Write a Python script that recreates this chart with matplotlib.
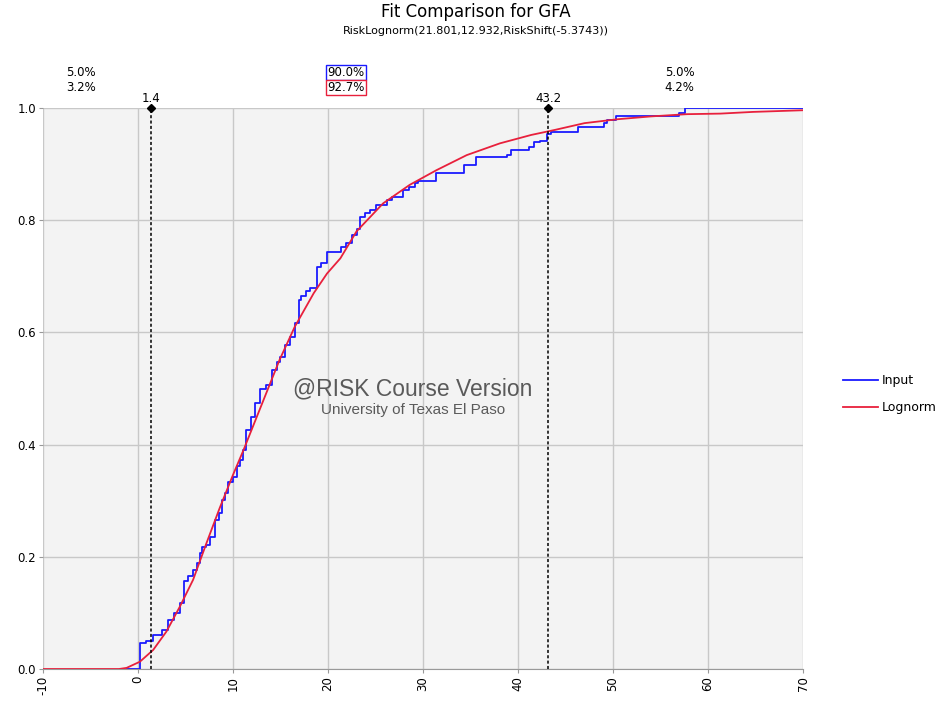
import numpy as np
import matplotlib
matplotlib.use("Agg")
import matplotlib.pyplot as plt

# empirisk fordeling (trappekurve)
input_x = [-1.2, 0.2, 0.8, 1.6, 2.5, 3.2, 3.8, 4.4, 4.8, 5.3, 5.8, 6.2, 6.5, 6.7, 7.2,
           7.6, 8.1, 8.5, 8.8, 9.2, 9.5, 10.0, 10.4, 10.7, 11.1, 11.4, 11.9, 12.3, 12.8,
           13.5, 14.1, 14.6, 14.9, 15.5, 16.0, 16.5, 16.9, 17.2, 17.7, 18.1, 18.8, 19.3,
           19.9, 21.4, 21.9, 22.5, 23.0, 23.4, 23.9, 24.4, 25.1, 26.2, 26.7, 27.9, 28.5,
           29.2, 29.5, 31.4, 34.3, 35.6, 38.8, 39.3, 41.2, 41.7, 42.3, 43.0, 43.5, 46.3,
           49.0, 49.4, 50.3, 56.9, 57.6, 70.0]
input_y = [0.0, 0.046, 0.05, 0.06, 0.07, 0.087, 0.10, 0.117, 0.156, 0.165, 0.176, 0.189,
           0.207, 0.218, 0.221, 0.236, 0.266, 0.278, 0.301, 0.313, 0.334, 0.343, 0.361,
           0.373, 0.39, 0.426, 0.45, 0.474, 0.50, 0.506, 0.533, 0.548, 0.557, 0.578,
           0.592, 0.617, 0.658, 0.664, 0.673, 0.679, 0.717, 0.724, 0.744, 0.753, 0.759,
           0.774, 0.785, 0.806, 0.812, 0.818, 0.827, 0.836, 0.841, 0.854, 0.86, 0.866,
           0.869, 0.885, 0.898, 0.912, 0.916, 0.925, 0.931, 0.94, 0.942, 0.953, 0.958,
           0.967, 0.973, 0.979, 0.985, 0.991, 1.0, 1.0]

# tilpasset lognormal-kurve
logn_x = [-10, -2, -1.2, 0.2, 1.6, 3.0, 4.4, 5.8, 7.2, 8.6, 10, 11.1, 12.8, 14.9, 16.5,
          18.5, 19.9, 21.3, 23.0, 25.8, 28.6, 31.4, 34.6, 38.1, 41.4, 43.9, 47.0, 50.5,
          54.0, 57.8, 61.3, 64.7, 70]
logn_y = [0, 0, 0.002, 0.013, 0.034, 0.067, 0.111, 0.159, 0.224, 0.287, 0.346, 0.39,
          0.462, 0.551, 0.61, 0.67, 0.705, 0.732, 0.780, 0.830, 0.863, 0.889, 0.916,
          0.937, 0.952, 0.961, 0.973, 0.980, 0.985, 0.989, 0.99, 0.993, 0.996]

markers_x = [1.4, 43.2]
xticks = [-10, 0, 10, 20, 30, 40, 50, 60, 70]
yticks = [0.0, 0.2, 0.4, 0.6, 0.8, 1.0]

blue = "#1a1aff"
red = "#e8203c"

fig = plt.figure(figsize=(9.51, 7.04), dpi=100)
ax = fig.add_axes([0.0452, 0.0497, 0.7992, 0.7969])
ax.set_facecolor("#f3f3f3")

ax.plot(input_x, input_y, drawstyle="steps-post", color=blue, lw=1.3, label="Input", zorder=3)
ax.plot(logn_x, logn_y, color=red, lw=1.3, label="Lognorm", zorder=4)

for mx in markers_x:
    ax.plot([mx, mx], [0, 1], color="black", ls=(0, (2, 1.5)), lw=1.1, zorder=5)
    ax.plot(mx, 1.0, marker="D", color="black", ms=4, clip_on=False, zorder=6)
    ax.text(mx, 1.005, "%.1f" % mx, ha="center", va="bottom", fontsize=8.5)

ax.set_xlim(-10, 70)
ax.set_ylim(0, 1)
ax.set_xticks(xticks)
ax.set_xticklabels([str(t) for t in xticks], rotation=90, fontsize=8.5)
ax.set_yticks(yticks)
ax.set_yticklabels(["%.1f" % t for t in yticks], fontsize=8.5)
ax.grid(color="#c8c8c8", lw=1)
ax.set_axisbelow(True)
for s in ["top", "right", "left"]:
    ax.spines[s].set_visible(False)
ax.spines["bottom"].set_color("#999999")
ax.tick_params(length=3, color="#999999", pad=2)

# prosenter over plottet
ax.text(-6.0, 1.063, "5.0%", ha="center", va="center", fontsize=8.5)
ax.text(-6.0, 1.037, "3.2%", ha="center", va="center", fontsize=8.5)
ax.text(21.9, 1.063, "90.0%", ha="center", va="center", fontsize=8.5,
        bbox=dict(boxstyle="square,pad=0.1", fc="white", ec=blue, lw=1))
ax.text(21.9, 1.037, "92.7%", ha="center", va="center", fontsize=8.5,
        bbox=dict(boxstyle="square,pad=0.1", fc="white", ec=red, lw=1))
ax.text(57.0, 1.063, "5.0%", ha="center", va="center", fontsize=8.5)
ax.text(57.0, 1.037, "4.2%", ha="center", va="center", fontsize=8.5)

# vannmerke
ax.text(0.487, 0.499, "@RISK Course Version", transform=ax.transAxes, ha="center",
        va="center", fontsize=16.5, color="#5a5a5a", family="Liberation Sans")
ax.text(0.487, 0.462, "University of Texas El Paso", transform=ax.transAxes, ha="center",
        va="center", fontsize=11, color="#5a5a5a", family="Liberation Sans")

fig.text(0.5, 0.983, "Fit Comparison for GFA", ha="center", va="center", fontsize=12)
fig.text(0.5, 0.956, "RiskLognorm(21.801,12.932,RiskShift(-5.3743))", ha="center",
         va="center", fontsize=8)

fig.legend(loc="center left", bbox_to_anchor=(0.875, 0.44), frameon=False,
           fontsize=9, handlelength=2.8, labelspacing=1.1, handletextpad=0.3)

fig.savefig("out.png", dpi=100)
